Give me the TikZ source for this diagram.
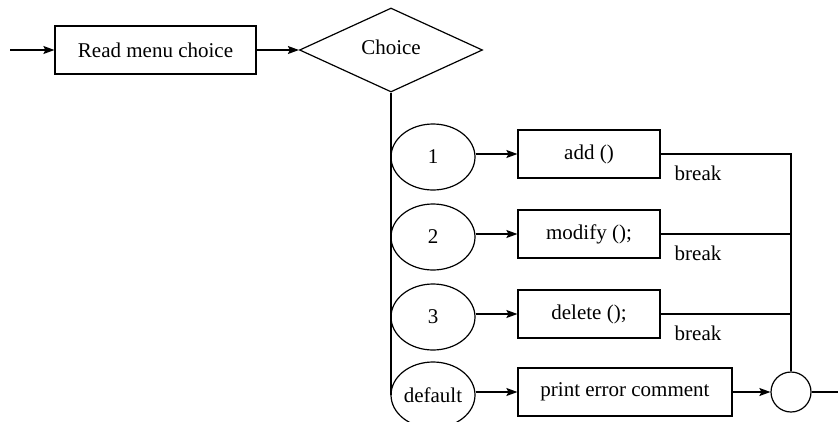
\documentclass[tikz,border=0pt]{standalone}
\usepackage{fontspec}
\setmainfont{Liberation Serif}
\usetikzlibrary{shapes.geometric,arrows.meta}
\begin{document}
\begin{tikzpicture}[x=1pt,y=-1pt,
  every node/.style={font=\fontsize{21}{25}\selectfont},
  line/.style={line width=1.2pt},
  arr/.style={line width=1.2pt, -{Stealth[length=11pt,width=8pt,inset=2pt]}},
  procbox/.style={draw, line width=1.2pt, rectangle, inner sep=0pt},
  casenode/.style={draw, line width=1.2pt, ellipse, inner sep=0pt, minimum width=84pt, minimum height=66pt},
  decision/.style={draw, line width=1.2pt, diamond, inner sep=0pt, minimum width=183pt, minimum height=84pt},
  joinpt/.style={draw, line width=1.2pt, circle, inner sep=0pt, minimum size=40pt},
  lbl/.style={inner sep=0pt}]
\useasboundingbox (0,0) rectangle (838,421);
\clip (0,0) rectangle (838,421);

% entry and first steps
\node[procbox, minimum width=201pt, minimum height=48pt] (read) at (155.5,50) {Read menu choice};
\coordinate (start) at (10,50);
\node[decision] (choice) at (391,50) {};
\node[lbl] at (391,47) {Choice};

% cases
\node[casenode] (c1)  at (433,157) {1};
\node[casenode] (c2)  at (433,237) {2};
\node[casenode] (c3)  at (433,317) {3};
\node[casenode] (cd)  at (433,395) {default};

% actions
\node[procbox, minimum width=142pt, minimum height=48pt] (add) at (589,154) {add ()};
\node[procbox, minimum width=142pt, minimum height=48pt] (mod) at (589,234) {modify ();};
\node[procbox, minimum width=142pt, minimum height=48pt] (del) at (589,314) {delete ();};
\node[procbox, minimum width=214pt, minimum height=48pt] (err) at (625,392) {print error comment};

% merge point and exit
\node[joinpt] (join) at (791,392) {};
\coordinate (exit) at (838,392);

% break labels
\node[lbl] at (698,173) {break};
\node[lbl] at (698,253) {break};
\node[lbl] at (698,333) {break};

% connectors
\draw[arr] (start) -- (read.west);
\draw[arr] (read.east) -- (choice.west);
\draw[line] (choice.south) -- (choice.south |- cd.west);
\draw[arr] (c1.east |- add.west) -- (add.west);
\draw[arr] (c2.east |- mod.west) -- (mod.west);
\draw[arr] (c3.east |- del.west) -- (del.west);
\draw[arr] (cd.east |- err.west) -- (err.west);
\draw[line] (add.east) -| (join.north);
\draw[line] (mod.east) -| (join.north);
\draw[line] (del.east) -| (join.north);
\draw[arr] (err) -- (join);
\draw[line] (join) -- (exit);
\end{tikzpicture}
\end{document}
